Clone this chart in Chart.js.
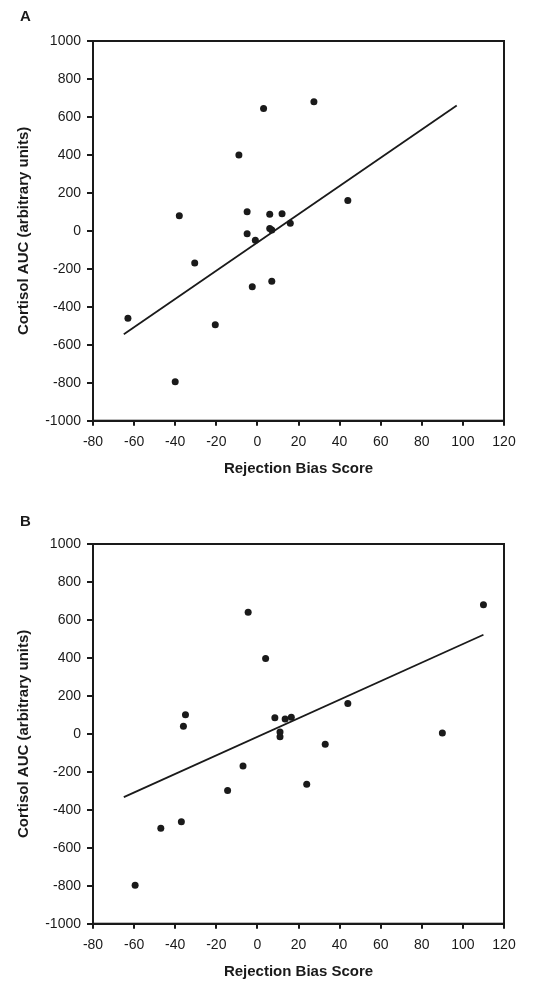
<!DOCTYPE html>
<html>
<head>
<meta charset="utf-8">
<script src="https://cdn.jsdelivr.net/npm/chart.js@4.4.0/dist/chart.umd.min.js"></script>
<style>
  body { margin: 0; background: #fff; }
  canvas { position: absolute; left: 0; }
  #chartA { top: 0; }
  #chartB { top: 503px; }
</style>
</head>
<body>
<canvas id="chartA" width="533" height="479"></canvas>
<canvas id="chartB" width="533" height="479"></canvas>
<script>
// panel A: rejection bias score vs cortisol AUC
const aX = [-38, -9, 3, 27.5, 44, -5, 6, 12, 16, 6, 7, -5, -1, -30.5, -2.5, 7, -63, -20.5, -40];
const aY = [80, 400, 645, 680, 160, 100, 88, 90, 40, 12, 5, -15, -50, -170, -295, -265, -460, -495, -795];
const aLineX = [-65, 97];
const aLineY = [-545, 660];

// panel B
const bX = [-35, -36, -4.5, 4, 110, 44, 8.5, 13.5, 16.5, 11, 11, 90, 33, -7, -14.5, 24, -37, -47, -59.5];
const bY = [100, 40, 640, 397, 680, 160, 85, 78, 88, 10, -15, 5, -55, -170, -298, -265, -463, -497, -797];
const bLineX = [-65, 110];
const bLineY = [-333, 522];

const xTitle = 'Rejection Bias Score';
const yTitle = 'Cortisol AUC (arbitrary units)';

const FONT = '"Liberation Sans", Arial, sans-serif';
const INK = '#1a1a1a';

// box around the plot area plus the panel letter
const framePlugin = {
  id: 'frame',
  afterDraw(chart, args, opts) {
    const { ctx, chartArea: a } = chart;
    ctx.save();
    ctx.strokeStyle = INK;
    ctx.lineWidth = 2;
    ctx.strokeRect(a.left, a.top, a.right - a.left, a.bottom - a.top);
    ctx.fillStyle = INK;
    ctx.font = 'bold 15px ' + FONT;
    ctx.textBaseline = 'middle';
    ctx.fillText(opts.letter, 20, opts.letterY);
    ctx.restore();
  }
};

function toPoints(xs, ys) {
  return xs.map((x, i) => ({ x: x, y: ys[i] }));
}

function makeChart(id, letter, letterY, xs, ys, lx, ly) {
  return new Chart(document.getElementById(id), {
    type: 'scatter',
    data: {
      datasets: [
        {
          data: toPoints(lx, ly),
          showLine: true,
          borderColor: INK,
          borderWidth: 1.8,
          pointRadius: 0
        },
        {
          data: toPoints(xs, ys),
          backgroundColor: INK,
          borderColor: INK,
          pointRadius: 3.5,
          borderWidth: 0
        }
      ]
    },
    options: {
      responsive: false,
      animation: false,
      devicePixelRatio: 1,
      layout: { padding: { top: 41, right: 29, bottom: 0, left: 0 } },
      plugins: {
        legend: { display: false },
        tooltip: { enabled: false },
        frame: { letter: letter, letterY: letterY }
      },
      scales: {
        x: {
          type: 'linear',
          min: -80,
          max: 120,
          ticks: { stepSize: 20, color: INK, padding: 8, font: { family: FONT, size: 14 },
                   callback: (v) => String(v) },
          grid: { drawOnChartArea: false, drawTicks: true, tickLength: 5, color: INK, lineWidth: 2 },
          border: { color: INK, width: 2 },
          title: { display: true, text: xTitle, color: INK, padding: { top: 0, bottom: 1 },
                   font: { family: FONT, size: 15, weight: 'bold' } },
          afterFit: (s) => { s.height = 58.3; }
        },
        y: {
          type: 'linear',
          min: -1000,
          max: 1000,
          ticks: { stepSize: 200, color: INK, padding: 6, font: { family: FONT, size: 14 },
                   callback: (v) => String(v) },
          grid: { drawOnChartArea: false, drawTicks: true, tickLength: 6, color: INK, lineWidth: 2 },
          border: { color: INK, width: 2 },
          title: { display: true, text: yTitle, color: INK, padding: { top: 15, bottom: 0 },
                   font: { family: FONT, size: 15, weight: 'bold' } },
          afterFit: (s) => { s.width = 93; }
        }
      }
    },
    plugins: [framePlugin]
  });
}

makeChart('chartA', 'A', 17, aX, aY, aLineX, aLineY);
makeChart('chartB', 'B', 19, bX, bY, bLineX, bLineY);
</script>
</body>
</html>
